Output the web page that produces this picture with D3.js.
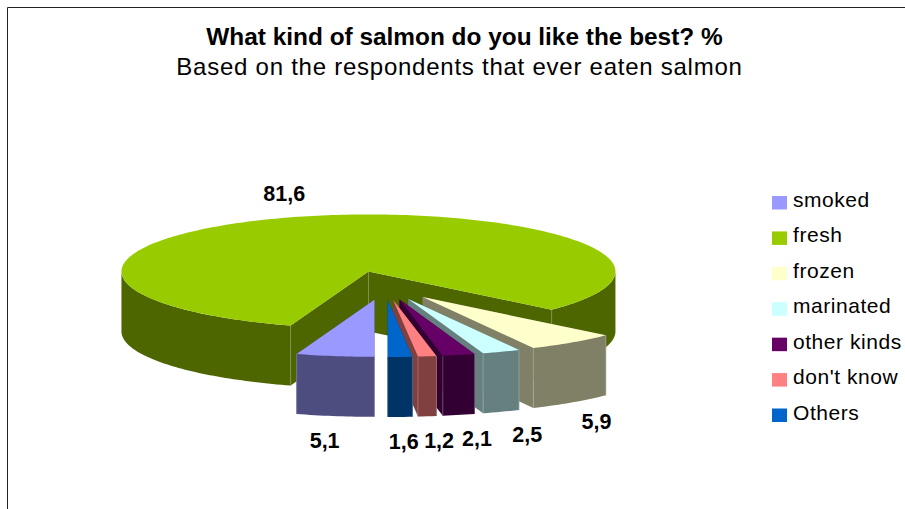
<!DOCTYPE html>
<html>
<head>
<meta charset="utf-8">
<script src="https://cdn.jsdelivr.net/npm/d3@7"></script>
<style>
  html, body { margin: 0; padding: 0; background: #fff; }
  svg { display: block; font-family: "Liberation Sans", Arial, sans-serif; }
</style>
</head>
<body>
<svg id="chart" width="905" height="509"></svg>
<script>
// Survey answers, in the order they run clockwise round the pie
const categories = ["smoked", "fresh", "frozen", "marinated", "other kinds", "don't know", "Others"];
const shares = [5.1, 81.6, 5.9, 2.5, 2.1, 1.2, 1.6];
const shareLabels = ["5,1", "81,6", "5,9", "2,5", "2,1", "1,2", "1,6"];
const topColors = ["#9999FF", "#99CC00", "#FFFFCC", "#CCFFFF", "#660066", "#FF8080", "#0066CC"];
const wallColors = ["#4D4D80", "#4D6600", "#808066", "#668080", "#330033", "#804040", "#003366"];
const labelNudgeX = [1, -3, -19, -1, 1, 2, 0];

const titleText = "What kind of salmon do you like the best? %";
const subtitleText = "Based on the respondents that ever eaten salmon";

// Pie geometry: a flattened disc seen from above, with every slice pulled out
const pieCenterX = 384.5, pieCenterY = 285.5;
const radiusX = 247, radiusY = 57, depth = 60, explode = 0.255;
const labelRadius = 1.29, labelDrop = 1.42;

const svg = d3.select("#chart");
const x = d3.scaleLinear().domain([-1, 1]).range([pieCenterX - radiusX, pieCenterX + radiusX]);
const y = d3.scaleLinear().domain([-1, 1]).range([pieCenterY - radiusY, pieCenterY + radiusY]);

const slices = d3.pie().sort(null).startAngle(Math.PI).endAngle(3 * Math.PI)(shares)
  .map((d, i) => {
    const mid = (d.startAngle + d.endAngle) / 2;
    return {
      ...d, i, mid,
      ox: x(explode * Math.sin(mid)) - x(0),
      oy: y(-explode * Math.cos(mid)) - y(0)
    };
  });

const rimPoint = (s, a, drop = 0) =>
  [x(Math.sin(a)) + s.ox, y(-Math.cos(a)) + s.oy + drop];
const apex = (s, drop = 0) => [x(0) + s.ox, y(0) + s.oy + drop];
const rim = (s, a0, a1, drop = 0) => {
  const n = Math.max(2, Math.ceil((a1 - a0) / 0.02));
  return d3.range(n + 1).map(k => rimPoint(s, a0 + (a1 - a0) * k / n, drop));
};
const polygon = d3.line();
const quarter = Math.PI / 2;

// Frame along the top and left of the chart area
svg.append("path").attr("d", "M7.5,509V7.5H905")
  .attr("fill", "none").attr("stroke", "#222").attr("stroke-width", 1);

// Back slices first so that nearer slices overlap them
const paintOrder = [1, 2, 3, 4, 5, 0, 6];
paintOrder.forEach(idx => {
  const s = slices[idx];
  const g = svg.append("g").attr("class", "slice");
  const wall = wallColors[idx];
  const edge = d3.interpolateRgb(wall, "#fff")(0.3);

  // Radial cut faces
  [s.startAngle, s.endAngle].forEach(a => {
    const pts = [apex(s), rimPoint(s, a), rimPoint(s, a, depth), apex(s, depth)];
    g.append("path").attr("d", polygon(pts) + "Z").attr("fill", wall);
  });

  // Outer wall: only the part of the rim that faces the viewer
  [0, 2 * Math.PI].forEach(turn => {
    const a0 = Math.max(s.startAngle, quarter + turn);
    const a1 = Math.min(s.endAngle, 3 * quarter + turn);
    if (a1 <= a0) return;
    const pts = rim(s, a0, a1).concat(rim(s, a0, a1, depth).reverse());
    g.append("path").attr("d", polygon(pts) + "Z").attr("fill", wall);
  });

  // Lighter hairlines on the vertical corners
  [s.startAngle, s.endAngle].forEach(a => {
    const p = rimPoint(s, a);
    if (Math.cos(a) > 0.05 && idx !== 1) return;
    g.append("line").attr("x1", p[0]).attr("x2", p[0])
      .attr("y1", p[1]).attr("y2", p[1] + depth)
      .attr("stroke", edge).attr("stroke-width", 0.8);
  });
  if (idx === 1) {
    const p = apex(s);
    g.append("line").attr("x1", p[0]).attr("x2", p[0])
      .attr("y1", p[1]).attr("y2", p[1] + depth)
      .attr("stroke", edge).attr("stroke-width", 0.8);
  }

  // Top face
  const top = [apex(s)].concat(rim(s, s.startAngle, s.endAngle));
  g.append("path").attr("d", polygon(top) + "Z").attr("fill", topColors[idx]);
});

// Value labels sit on a wider ring round each slice
svg.append("g").selectAll("text").data(slices).join("text")
  .attr("text-anchor", "middle")
  .attr("font-size", 21.5).attr("font-weight", "bold").attr("fill", "#000")
  .attr("x", d => x(labelRadius * Math.sin(d.mid)) + d.ox + labelNudgeX[d.i])
  .attr("y", d => {
    const c = -Math.cos(d.mid);
    return y(labelDrop * c) + d.oy + (c > 0 ? depth : 0) + 8;
  })
  .text(d => shareLabels[d.i]);

// Titles
svg.append("text").attr("x", 464.5).attr("y", 45).attr("text-anchor", "middle")
  .attr("font-size", 24.4).attr("font-weight", "bold").attr("fill", "#000").text(titleText);
svg.append("text").attr("x", 459.5).attr("y", 75).attr("text-anchor", "middle")
  .attr("font-size", 24).attr("letter-spacing", 0.75).attr("fill", "#000").text(subtitleText);

// Legend
const legendY = d3.scalePoint().domain(categories).range([202.5, 415]);
const legend = svg.append("g").selectAll("g").data(categories).join("g")
  .attr("transform", d => `translate(772,${legendY(d)})`);
legend.append("rect").attr("x", 0).attr("y", -6.5).attr("width", 15).attr("height", 13.5)
  .attr("fill", (d, i) => topColors[i]);
legend.append("text").attr("x", 21).attr("y", 4.5)
  .attr("font-size", 21).attr("letter-spacing", 0.55).attr("fill", "#000").text(d => d);
</script>
</body>
</html>
